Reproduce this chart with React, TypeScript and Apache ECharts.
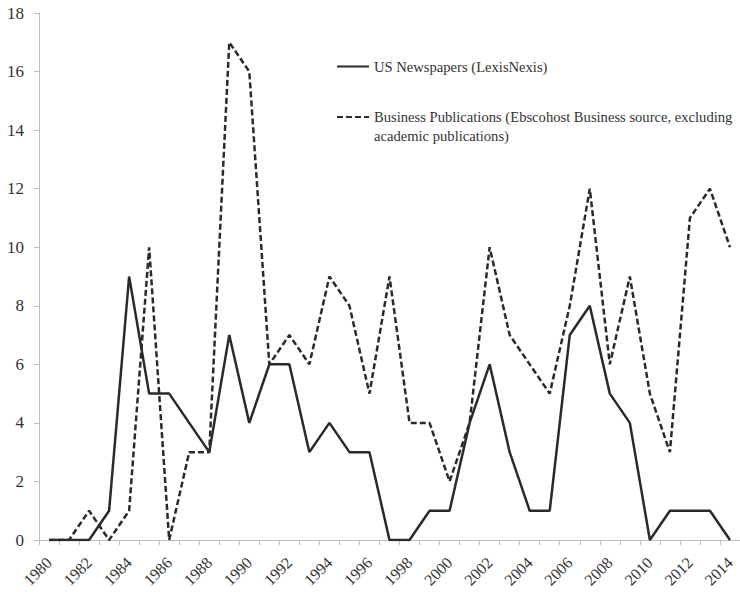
import React, { useEffect, useRef } from "react";
import * as echarts from "echarts";

const years: string[] = [
  "1980", "1981", "1982", "1983", "1984", "1985", "1986", "1987", "1988", "1989",
  "1990", "1991", "1992", "1993", "1994", "1995", "1996", "1997", "1998", "1999",
  "2000", "2001", "2002", "2003", "2004", "2005", "2006", "2007", "2008", "2009",
  "2010", "2011", "2012", "2013", "2014",
];

const usNewspapers: number[] = [
  0, 0, 0, 1, 9, 5, 5, 4, 3, 7,
  4, 6, 6, 3, 4, 3, 3, 0, 0, 1,
  1, 4, 6, 3, 1, 1, 7, 8, 5, 4,
  0, 1, 1, 1, 0,
];

const businessPubs: number[] = [
  0, 0, 1, 0, 1, 10, 0, 3, 3, 17,
  16, 6, 7, 6, 9, 8, 5, 9, 4, 4,
  2, 4, 10, 7, 6, 5, 8, 12, 6, 9,
  5, 3, 11, 12, 10,
];

const NAME_US = "US Newspapers (LexisNexis)";
const NAME_BIZ =
  "Business Publications (Ebscohost Business source, excluding academic publications)";
const BIZ_LEGEND_TEXT =
  "\u00a0\nBusiness Publications (Ebscohost Business source, excluding\nacademic publications)";

const FONT = "Liberation Serif";
const TEXT = "#333333";
const AXIS = "#bfbfbf";
const LINE = "#2a2a2a";

export default function App() {
  const ref = useRef<HTMLDivElement>(null);

  useEffect(() => {
    if (!ref.current) return;
    const chart = echarts.init(ref.current, undefined, { renderer: "svg" });
    const legendBase = {
      left: 336,
      orient: "vertical",
      padding: 0,
      itemWidth: 32,
      itemHeight: 14,
      itemGap: 4,
      itemStyle: { opacity: 0 },
    };
    chart.setOption({
      animation: false,
      backgroundColor: "#ffffff",
      textStyle: { fontFamily: FONT },
      grid: {
        left: 39,
        right: 0,
        top: 13,
        bottom: 52,
        containLabel: false,
        outerBoundsMode: "none",
      },
      legend: [
        {
          ...legendBase,
          data: [NAME_US],
          top: 59,
          textStyle: { fontFamily: FONT, fontSize: 14.6, color: TEXT },
        },
        {
          ...legendBase,
          data: [NAME_BIZ],
          top: 88.5,
          formatter: () => BIZ_LEGEND_TEXT,
          textStyle: {
            fontFamily: FONT,
            fontSize: 14.6,
            color: TEXT,
            lineHeight: 19,
          },
        },
      ],
      xAxis: [
        {
          type: "category",
          data: years,
          boundaryGap: true,
          axisLine: { show: true, lineStyle: { color: AXIS, width: 1 } },
          axisTick: { show: true, interval: 0, length: 5, lineStyle: { color: AXIS } },
          axisLabel: {
            show: true,
            interval: 1,
            rotate: 45,
            margin: 20,
            fontFamily: FONT,
            fontSize: 16,
            color: TEXT,
          },
          splitLine: { show: false },
        },
      ],
      yAxis: [
        {
          type: "value",
          min: 0,
          max: 18,
          interval: 2,
          axisLine: { show: true, lineStyle: { color: AXIS, width: 1 } },
          axisTick: { show: true, length: 5, lineStyle: { color: AXIS } },
          axisLabel: {
            show: true,
            margin: 15,
            fontFamily: FONT,
            fontSize: 17,
            color: TEXT,
          },
          splitLine: { show: false },
        },
      ],
      series: [
        {
          name: NAME_US,
          type: "line",
          data: usNewspapers,
          symbol: "none",
          showSymbol: false,
          lineStyle: { color: LINE, width: 2.5, type: "solid" },
          itemStyle: { color: LINE },
        },
        {
          name: NAME_BIZ,
          type: "line",
          data: businessPubs,
          symbol: "none",
          showSymbol: false,
          lineStyle: { color: LINE, width: 2.5, type: [6, 3] },
          itemStyle: { color: LINE },
        },
      ],
    });
    return () => chart.dispose();
  }, []);

  return <div ref={ref} style={{ width: 740, height: 592, position: "absolute", left: 0, top: 0 }} />;
}
